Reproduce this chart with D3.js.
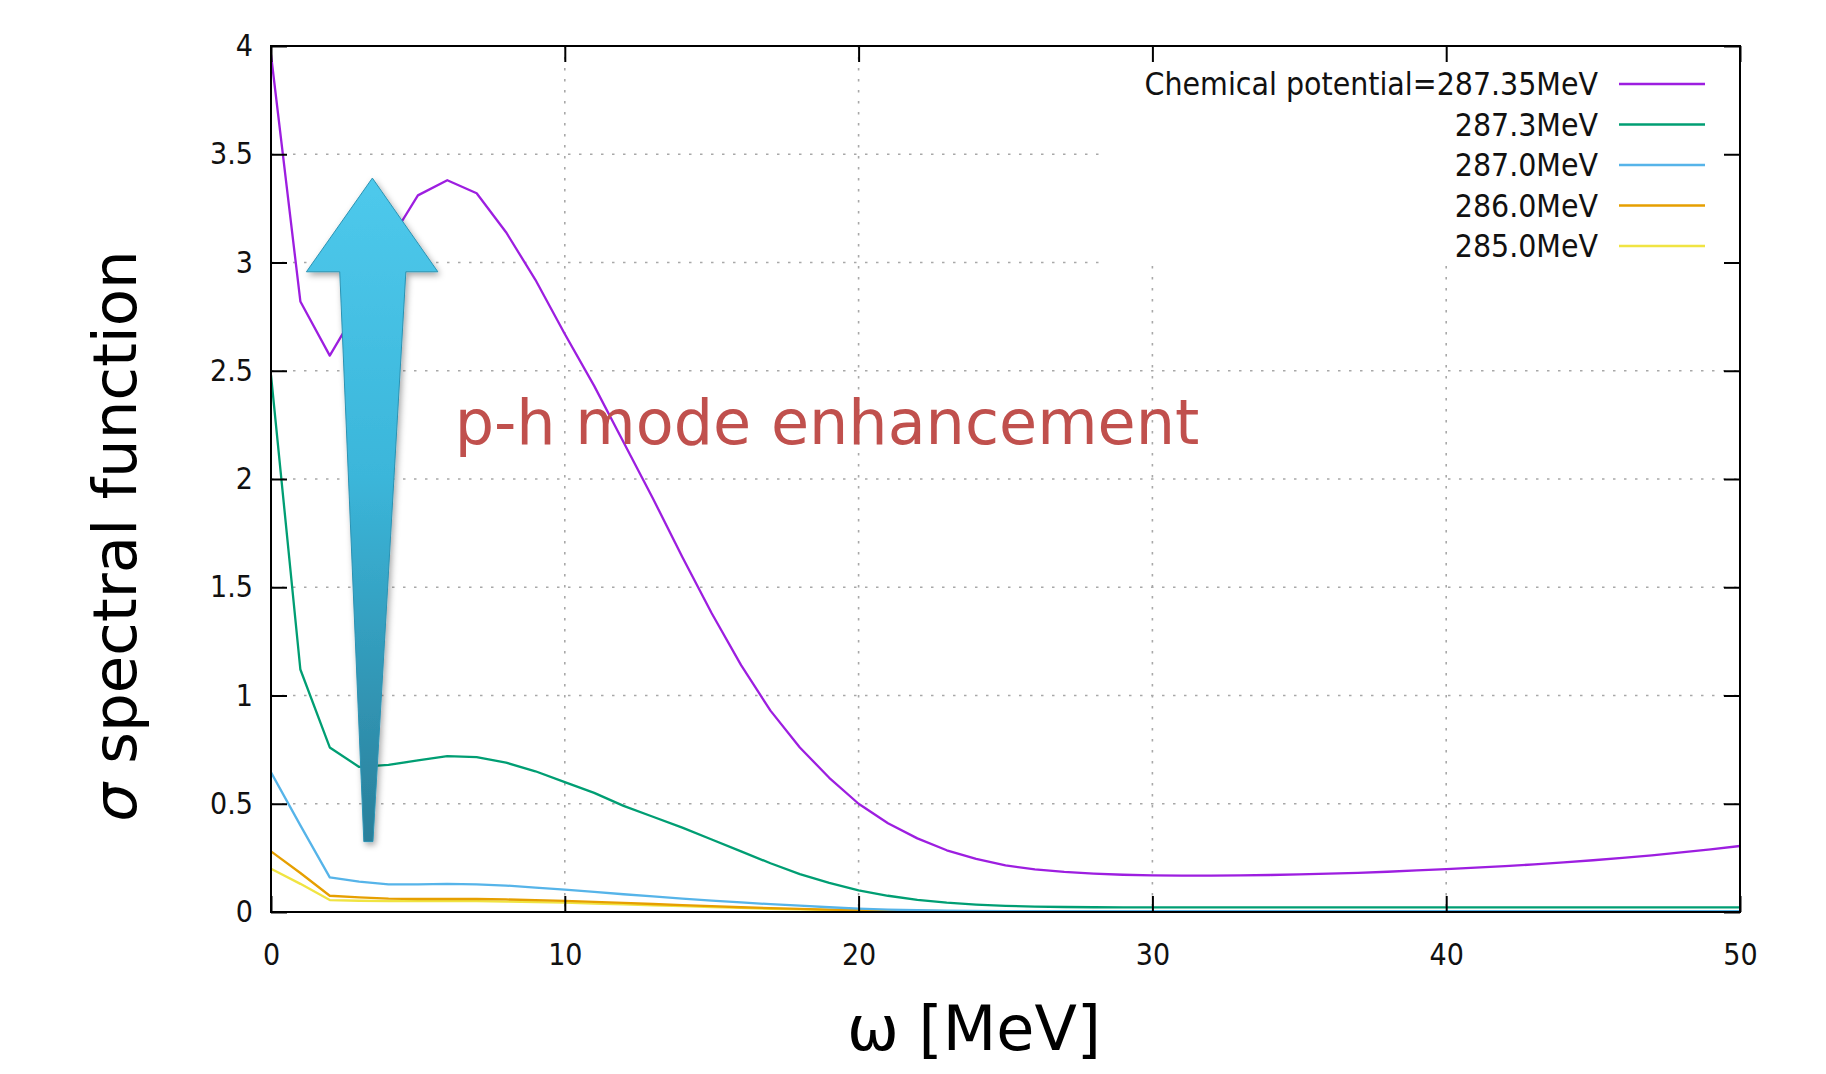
<!DOCTYPE html>
<html>
<head>
<meta charset="utf-8">
<script src="https://cdn.jsdelivr.net/npm/d3@7"></script>
<style>
  html, body { margin: 0; padding: 0; background: #fff; }
  svg { display: block; }
  .tick-lbl text, .legend text { font-family: "DejaVu Sans Condensed", "DejaVu Sans", sans-serif; font-stretch: condensed; }
</style>
</head>
<body>
<svg id="chart" width="1826" height="1074"></svg>
<script>
// sigma spectral function vs omega for several chemical potentials (gnuplot-style plot)

const omega = [0,1,2,3,4,5,6,7,8,9,10,11,12,13,14,15,16,17,18,19,20,
  21,22,23,24,25,26,27,28,29,30,31,32,33,34,35,36,37,38,39,40,
  41,42,43,44,45,46,47,48,49,50];

const mu28735 = [3.96,2.82,2.57,2.80,3.09,3.31,3.38,3.32,3.14,2.92,2.67,
  2.43,2.17,1.91,1.64,1.38,1.14,0.93,0.76,0.62,0.50,
  0.41,0.34,0.285,0.245,0.215,0.197,0.185,0.177,0.172,0.169,
  0.168,0.168,0.169,0.171,0.174,0.177,0.181,0.186,0.192,0.198,
  0.205,0.212,0.220,0.229,0.239,0.250,0.262,0.275,0.289,0.305];

const mu2873 = [2.48,1.12,0.76,0.67,0.68,0.70,0.72,0.715,0.69,0.65,0.60,
  0.55,0.49,0.44,0.39,0.335,0.28,0.225,0.175,0.135,0.10,
  0.075,0.056,0.043,0.034,0.028,0.025,0.023,0.022,0.021,0.021,
  0.021,0.021,0.021,0.021,0.021,0.021,0.021,0.021,0.021,0.021,
  0.021,0.021,0.021,0.021,0.021,0.021,0.021,0.021,0.021,0.021];

const mu2870 = [0.645,0.40,0.16,0.14,0.128,0.128,0.13,0.128,0.122,0.113,0.103,
  0.093,0.082,0.072,0.062,0.053,0.044,0.036,0.029,0.022,0.016,
  0.011,0.008,0.006,0.005,0.004,0.004,0.004,0.004,0.004,0.004,
  0.004,0.004,0.004,0.004,0.004,0.004,0.004,0.004,0.004,0.004,
  0.004,0.004,0.004,0.004,0.004,0.004,0.004,0.004,0.004,0.004];

const mu2860 = [0.28,0.18,0.075,0.068,0.062,0.06,0.06,0.06,0.058,0.055,0.051,
  0.047,0.042,0.037,0.032,0.027,0.022,0.018,0.014,0.011,0.008,
  0.006,0.005,0.004,0.004,0.004,0.004,0.004,0.004,0.004,0.004,
  0.004,0.004,0.004,0.004,0.004,0.004,0.004,0.004,0.004,0.004,
  0.004,0.004,0.004,0.004,0.004,0.004,0.004,0.004,0.004,0.004];

const mu2850 = [0.20,0.13,0.055,0.052,0.05,0.05,0.05,0.05,0.048,0.046,0.043,
  0.039,0.035,0.031,0.027,0.023,0.019,0.015,0.012,0.009,0.007,
  0.005,0.004,0.003,0.003,0.003,0.003,0.003,0.003,0.003,0.003,
  0.003,0.003,0.003,0.003,0.003,0.003,0.003,0.003,0.003,0.003,
  0.003,0.003,0.003,0.003,0.003,0.003,0.003,0.003,0.003,0.003];

const seriesLabels = ["Chemical potential=287.35MeV", "287.3MeV", "287.0MeV", "286.0MeV", "285.0MeV"];
const seriesColors = ["#9d1ee0", "#009e73", "#56b4e9", "#e69f00", "#f0e442"];
const seriesValues = [mu28735, mu2873, mu2870, mu2860, mu2850];

const xTicks = [0, 10, 20, 30, 40, 50];
const yTicks = [0, 0.5, 1, 1.5, 2, 2.5, 3, 3.5, 4];

const M = { left: 271, right: 1740, top: 46, bottom: 912 };

const svg = d3.select("#chart");
const x = d3.scaleLinear().domain([0, 50]).range([M.left, M.right]);
const y = d3.scaleLinear().domain([0, 4]).range([M.bottom, M.top]);

const defs = svg.append("defs");
defs.append("clipPath").attr("id", "plotclip")
  .append("rect").attr("x", M.left).attr("y", M.top)
  .attr("width", M.right - M.left).attr("height", M.bottom - M.top);

const grad = defs.append("linearGradient").attr("id", "arrowgrad")
  .attr("x1", 0).attr("y1", 0).attr("x2", 0).attr("y2", 1);
grad.append("stop").attr("offset", "0%").attr("stop-color", "#4ec9ec");
grad.append("stop").attr("offset", "45%").attr("stop-color", "#3bb6da");
grad.append("stop").attr("offset", "100%").attr("stop-color", "#2a7f9a");

const shadow = defs.append("filter").attr("id", "shadow")
  .attr("x", "-30%").attr("y", "-10%").attr("width", "160%").attr("height", "130%");
shadow.append("feDropShadow").attr("dx", 2).attr("dy", 3)
  .attr("stdDeviation", 3).attr("flood-color", "#000").attr("flood-opacity", 0.35);

// grid (dotted)
const grid = svg.append("g").attr("stroke", "#a8a8a8").attr("stroke-width", 1.6)
  .attr("stroke-dasharray", "2.5,8.5");
grid.selectAll("line.h").data(yTicks.filter(d => d > 0 && d < 4)).enter().append("line")
  .attr("x1", M.left).attr("x2", M.right).attr("y1", d => y(d)).attr("y2", d => y(d));
grid.selectAll("line.v").data(xTicks.filter(d => d > 0 && d < 50)).enter().append("line")
  .attr("y1", M.top).attr("y2", M.bottom).attr("x1", d => x(d)).attr("x2", d => x(d));

// opaque key box hides the grid behind it
svg.append("rect").attr("x", 1100).attr("y", M.top).attr("width", M.right - 1100).attr("height", 265 - M.top)
  .attr("fill", "#fff");

// curves (drawn last series first so purple sits on top)
const line = d3.line().x(d => x(d[0])).y(d => y(d[1]));
const curves = svg.append("g").attr("clip-path", "url(#plotclip)").attr("fill", "none")
  .attr("stroke-width", 2.3).attr("stroke-linejoin", "round");
seriesValues.map((vals, i) => ({ i, pts: omega.map((w, k) => [w, vals[k]]) }))
  .reverse()
  .forEach(s => {
    curves.append("path").attr("d", line(s.pts)).attr("stroke", seriesColors[s.i]);
  });

// axes: ticks pointing inward on all four sides
const axisStyle = g => {
  g.selectAll(".domain").remove();
  g.selectAll(".tick line").attr("stroke", "#000").attr("stroke-width", 2);
  g.selectAll("text").attr("fill", "#111").attr("font-size", 30);
};
svg.append("g").attr("class", "tick-lbl").attr("transform", `translate(${M.left},0)`)
  .call(d3.axisLeft(y).tickValues(yTicks).tickFormat(d3.format("")).tickSizeInner(-16).tickSizeOuter(0).tickPadding(18))
  .call(axisStyle);
svg.append("g").attr("class", "tick-lbl").attr("transform", `translate(${M.right},0)`)
  .call(d3.axisRight(y).tickValues(yTicks).tickFormat("").tickSizeInner(-16).tickSizeOuter(0))
  .call(axisStyle);
svg.append("g").attr("class", "tick-lbl").attr("transform", `translate(0,${M.bottom})`)
  .call(d3.axisBottom(x).tickValues(xTicks).tickFormat(d3.format("d")).tickSizeInner(-16).tickSizeOuter(0).tickPadding(32))
  .call(axisStyle);
svg.append("g").attr("class", "tick-lbl").attr("transform", `translate(0,${M.top})`)
  .call(d3.axisTop(x).tickValues(xTicks).tickFormat("").tickSizeInner(-16).tickSizeOuter(0))
  .call(axisStyle);

// border
svg.append("rect").attr("x", M.left).attr("y", M.top)
  .attr("width", M.right - M.left).attr("height", M.bottom - M.top)
  .attr("fill", "none").attr("stroke", "#000").attr("stroke-width", 2);

// key
const legend = svg.append("g").attr("class", "legend");
seriesLabels.forEach((lab, i) => {
  const cy = 84 + i * 40.5;
  legend.append("text").attr("x", 1598).attr("y", cy).attr("dy", "0.36em")
    .attr("text-anchor", "end").attr("font-size", 31.7).attr("fill", "#111").text(lab);
  legend.append("line").attr("x1", 1619).attr("x2", 1705).attr("y1", cy).attr("y2", cy)
    .attr("stroke", seriesColors[i]).attr("stroke-width", 2.4);
});

// big annotation arrow, placed in data units
const arrowPts = [
  [3.45, 3.39], [5.68, 2.957], [4.59, 2.957], [3.47, 0.325],
  [3.16, 0.325], [2.34, 2.957], [1.205, 2.957]
];
svg.append("path")
  .attr("d", d3.line().x(d => x(d[0])).y(d => y(d[1])).curve(d3.curveLinearClosed)(arrowPts))
  .attr("fill", "url(#arrowgrad)").attr("stroke", "#2c93b3").attr("stroke-width", 1)
  .attr("filter", "url(#shadow)");

svg.append("text").attr("x", x(6.25)).attr("y", y(2.16))
  .attr("font-family", "'DejaVu Sans', sans-serif").attr("font-size", 62)
  .attr("fill", "#c0504d").text("p-h mode enhancement");

// axis titles
svg.append("text").attr("x", 974).attr("y", 1050).attr("text-anchor", "middle")
  .attr("font-family", "'DejaVu Sans', sans-serif").attr("font-size", 62).attr("fill", "#000")
  .text("ω [MeV]");

const yl = svg.append("text").attr("transform", "translate(136,536) rotate(-90)")
  .attr("text-anchor", "middle")
  .attr("font-family", "'DejaVu Sans', sans-serif").attr("font-size", 61).attr("fill", "#000");
yl.append("tspan").attr("font-style", "italic").text("σ");
yl.append("tspan").text(" spectral function");
</script>
</body>
</html>
